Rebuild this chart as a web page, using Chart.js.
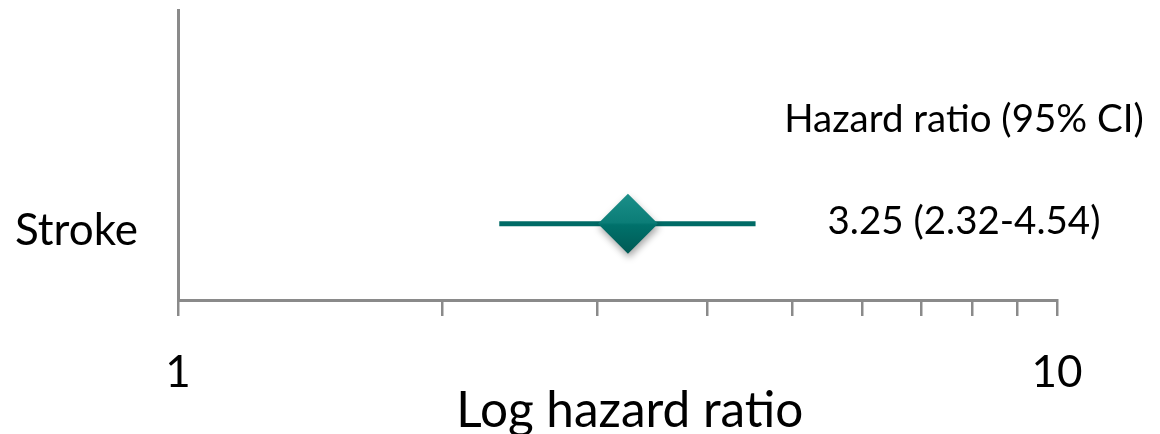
<!DOCTYPE html>
<html>
<head>
<meta charset="utf-8">
<script src="https://cdn.jsdelivr.net/npm/chart.js@4/dist/chart.umd.min.js"></script>
<style>
  html, body { margin: 0; padding: 0; background: #ffffff; }
  #wrap { width: 1160px; height: 434px; }
</style>
</head>
<body>
<div id="wrap"><canvas id="forest" width="1160" height="434"></canvas></div>
<script>
// Forest plot data
const outcomes = ['Stroke'];
const rowPositions = [1];
const hazardRatios = [3.25];
const ciLower = [2.32];
const ciUpper = [4.54];
const xTickValues = [1, 2, 3, 4, 5, 6, 7, 8, 9, 10];
const xTickLabels = [1, 10];
const headerText = 'Hazard ratio (95% CI)';
const axisTitle = '\u2002Log hazard ratio';

const FONT = 'Lato, "Open Sans", sans-serif';
const AXIS_GREY = '#8a8a8a';
const TEAL_LINE = '#006b66';

// Diamond fill: lighter top facet fading into a darker lower half
function diamondFill(ctx) {
  const chart = ctx.chart;
  const ys = chart.scales.y;
  if (!ys || ctx.dataIndex === undefined) return '#00736d';
  const cy = ys.getPixelForValue(rowPositions[ctx.dataIndex]);
  if (!isFinite(cy)) return '#00736d';
  const g = chart.ctx.createLinearGradient(0, cy - 30, 0, cy + 30);
  g.addColorStop(0, '#1b8f89');
  g.addColorStop(0.48, '#0b7d77');
  g.addColorStop(0.52, '#00716b');
  g.addColorStop(1, '#005a55');
  return g;
}

const diamondData = hazardRatios.map((v, i) => ({ x: v, y: rowPositions[i] }));
const ciDatasets = outcomes.map((name, i) => ({
  type: 'line',
  label: name + ' CI',
  data: [{ x: ciLower[i], y: rowPositions[i] }, { x: ciUpper[i], y: rowPositions[i] }],
  borderColor: TEAL_LINE,
  borderWidth: 5,
  pointRadius: 0,
  fill: false
}));

// Soft drop shadow under the diamond markers
const shadowPlugin = {
  id: 'diamondShadow',
  beforeDatasetDraw(chart, args) {
    if (args.index !== 0) return;
    const c = chart.ctx;
    c.save();
    c.shadowColor = 'rgba(0,0,0,0.35)';
    c.shadowBlur = 7;
    c.shadowOffsetX = 1;
    c.shadowOffsetY = 4;
  },
  afterDatasetDraw(chart, args) {
    if (args.index !== 0) return;
    chart.ctx.restore();
  }
};

// Header and per-row estimate text on the right
const estimateText = {
  id: 'estimateText',
  afterDraw(chart, args, opts) {
    const c = chart.ctx;
    const ys = chart.scales.y;
    c.save();
    c.fillStyle = '#000000';
    c.textAlign = 'center';
    c.textBaseline = 'middle';
    c.font = opts.size + 'px ' + FONT;
    c.fillText(headerText, opts.x, opts.headerY);
    outcomes.forEach((name, i) => {
      const txt = hazardRatios[i].toFixed(2) + ' (' + ciLower[i].toFixed(2) + '-' + ciUpper[i].toFixed(2) + ')';
      c.fillText(txt, opts.x, ys.getPixelForValue(rowPositions[i]) + opts.rowOffset);
    });
    c.restore();
  }
};

// Keep the plot area pinned to the axis box regardless of label overhang
function zeroPadding(scale) {
  scale.paddingTop = 0;
  scale.paddingBottom = 0;
  scale.paddingLeft = 0;
  scale.paddingRight = 0;
}

new Chart(document.getElementById('forest'), {
  data: {
    datasets: [
      {
        type: 'scatter',
        label: 'Hazard ratio',
        data: diamondData,
        pointStyle: 'rectRot',
        pointRadius: 30,
        pointHoverRadius: 30,
        backgroundColor: diamondFill,
        borderWidth: 0
      },
      ...ciDatasets
    ]
  },
  options: {
    responsive: false,
    animation: false,
    devicePixelRatio: 1,
    layout: { autoPadding: false, padding: { left: 0, right: 103, top: 10, bottom: 0 } },
    plugins: {
      legend: { display: false },
      tooltip: { enabled: false },
      estimateText: { x: 964, headerY: 120, rowOffset: -2, size: 38.5 }
    },
    scales: {
      x: {
        type: 'logarithmic',
        position: 'bottom',
        min: 1,
        max: 10,
        afterBuildTicks(scale) { scale.ticks = xTickValues.map(v => ({ value: v })); },
        afterFit(scale) {
          scale.height = 134;
          zeroPadding(scale);
        },
        grid: {
          display: true,
          drawOnChartArea: false,
          drawTicks: true,
          tickLength: 16,
          color: AXIS_GREY,
          lineWidth: 2.5
        },
        border: { display: true, color: AXIS_GREY, width: 3 },
        ticks: {
          autoSkip: false,
          maxRotation: 0,
          padding: 30,
          color: '#000000',
          font: { family: FONT, size: 44 },
          callback(v) { return xTickLabels.includes(v) ? String(v) : ''; }
        },
        title: {
          display: true,
          text: axisTitle,
          color: '#000000',
          font: { family: FONT, size: 49.5 },
          padding: { top: 0, bottom: -7 }
        }
      },
      y: {
        type: 'linear',
        min: 0,
        max: 3.8,
        afterBuildTicks(scale) { scale.ticks = rowPositions.map(v => ({ value: v })); },
        afterFit(scale) {
          scale.width = 178;
          zeroPadding(scale);
        },
        grid: { display: false },
        border: { display: true, color: AXIS_GREY, width: 3 },
        ticks: {
          padding: 32,
          labelOffset: 7,
          color: '#000000',
          font: { family: FONT, size: 44 },
          callback(v) {
            const i = rowPositions.indexOf(v);
            return i >= 0 ? outcomes[i] : '';
          }
        }
      }
    }
  },
  plugins: [shadowPlugin, estimateText]
});
</script>
</body>
</html>
